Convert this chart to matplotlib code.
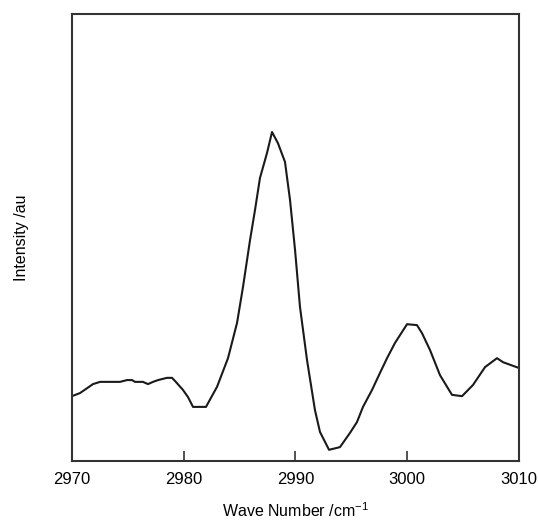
import matplotlib
matplotlib.use("Agg")
import matplotlib.pyplot as plt

plt.rcParams['font.family'] = ['Liberation Sans', 'DejaVu Sans']
plt.rcParams['mathtext.fontset'] = 'custom'
plt.rcParams['mathtext.rm'] = 'Liberation Sans'
plt.rcParams['mathtext.it'] = 'Liberation Sans:italic'

# Raman band: wavenumber (cm^-1) and intensity (arbitrary units)
wavenumber = [2970.0, 2970.72, 2971.88, 2972.51, 2974.30, 2974.92, 2975.37, 2975.64,
              2976.35, 2976.80, 2977.25, 2977.70, 2978.50, 2978.95, 2979.22, 2979.93,
              2980.38, 2980.83, 2981.99, 2982.98, 2983.96, 2984.77, 2985.30, 2985.93,
              2986.38, 2986.82, 2987.45, 2987.90, 2988.43, 2989.06, 2989.51, 2989.96,
              2990.40, 2991.03, 2991.74, 2992.19, 2993.00, 2993.98, 2994.88, 2995.50,
              2996.04, 2996.85, 2997.56, 2998.19, 2998.90, 2999.98, 3000.87, 3001.32,
              3002.04, 3002.93, 3004.00, 3004.90, 3005.88, 3006.96, 3008.03, 3008.57,
              3010.0]
intensity = [0.145, 0.152, 0.172, 0.177, 0.177, 0.181, 0.181, 0.177,
             0.177, 0.172, 0.177, 0.181, 0.186, 0.186, 0.179, 0.159,
             0.143, 0.121, 0.121, 0.166, 0.230, 0.309, 0.389, 0.494,
             0.562, 0.633, 0.689, 0.736, 0.711, 0.669, 0.584, 0.472,
             0.345, 0.226, 0.114, 0.065, 0.025, 0.031, 0.063, 0.087,
             0.121, 0.159, 0.197, 0.230, 0.264, 0.306, 0.304, 0.286,
             0.248, 0.192, 0.148, 0.145, 0.170, 0.210, 0.230, 0.221,
             0.208]

xticks = [2970, 2980, 2990, 3000, 3010]

fig = plt.figure(figsize=(5.38, 5.21), dpi=100)
ax = fig.add_axes([0.1338, 0.1152, 0.8309, 0.8579])

ax.plot(wavenumber, intensity, color='#1a1a1a', lw=1.5)

ax.set_xlim(2970, 3010)
ax.set_ylim(0, 1)
ax.set_xticks(xticks)
ax.set_xticklabels([str(t) for t in xticks])
ax.set_yticks([])
ax.tick_params(axis='x', direction='in', length=7, width=1.2, color='#333333',
               labelsize=12, pad=8)

for sp in ax.spines.values():
    sp.set_color('#333333')
    sp.set_linewidth(1.5)

ax.set_xlabel(r'Wave Number /cm$^{-1}$', fontsize=11.5, labelpad=10)
ax.set_ylabel('Intensity /au', fontsize=11.5, labelpad=31)

fig.savefig('out.png', dpi=100)
